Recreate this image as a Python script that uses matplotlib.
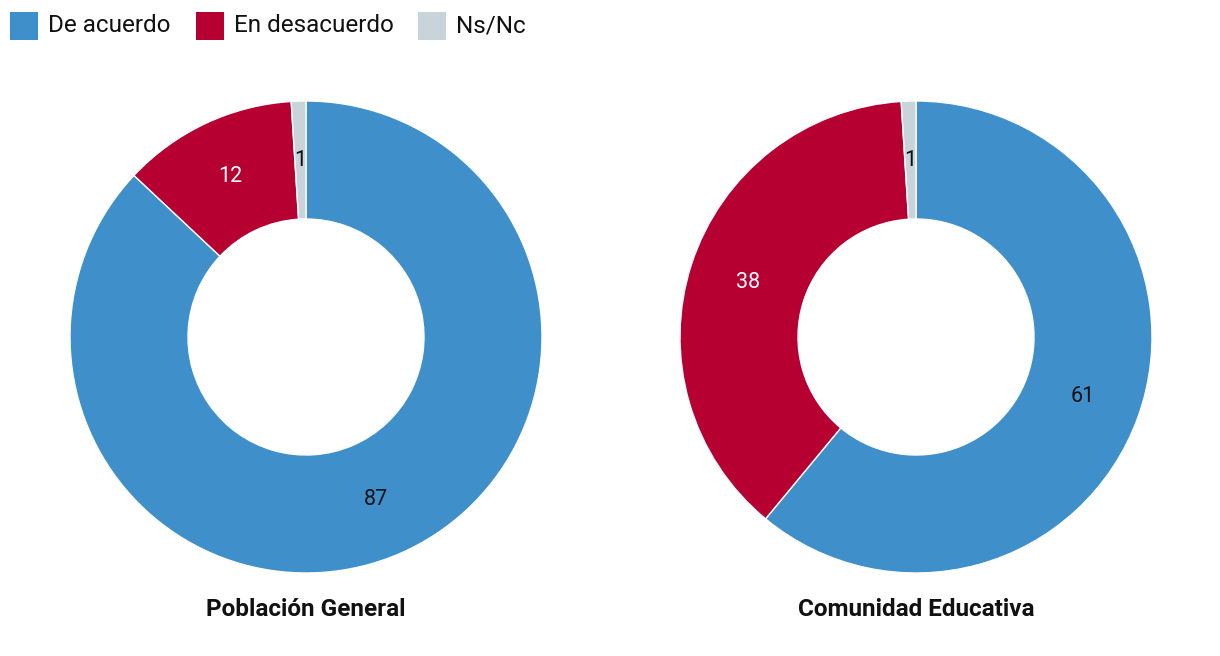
import matplotlib
matplotlib.use('Agg')
import matplotlib.pyplot as plt
from matplotlib.patches import Rectangle

plt.rcParams['font.family'] = ['Roboto', 'DejaVu Sans']

# data
categories = ['De acuerdo', 'En desacuerdo', 'Ns/Nc']
colors = ['#3f8fcb', '#b60032', '#c9d3da']
label_colors = ['#111111', 'white', '#111111']
groups = ['Población General', 'Comunidad Educativa']
values = {
    'Población General': [87, 12, 1],
    'Comunidad Educativa': [61, 38, 1],
}

W, H = 1220, 656
fig = plt.figure(figsize=(W / 100, H / 100), dpi=100)

# pixel centres of the two donuts
centres_x = [306, 916]
cy = 337
R = 236

for grp, cx in zip(groups, centres_x):
    ax = fig.add_axes([(cx - R) / W, (H - cy - R) / H, 2 * R / W, 2 * R / H])
    vals = values[grp]
    wedges, texts = ax.pie(vals, colors=colors, startangle=90, counterclock=False,
                           radius=1, labels=[str(v) for v in vals],
                           labeldistance=0.75,
                           wedgeprops=dict(width=0.5, edgecolor='white', linewidth=1))
    for t, c in zip(texts, label_colors):
        t.set_color(c)
        t.set_fontsize(15.5)
        t.set_ha('center')
        t.set_va('center')
    ax.set_xlim(-1, 1)
    ax.set_ylim(-1, 1)
    ax.set_aspect('equal')
    ax.axis('off')
    fig.text(cx / W, (H - 609) / H, grp, ha='center', va='center',
             fontsize=17.5, fontweight='bold', color='#111111')

# legend drawn by hand (pixel positions of the swatches)
swatch_x = [10, 196, 418]
sq = 28
for x, c, lab in zip(swatch_x, colors, categories):
    fig.patches.append(Rectangle((x / W, (H - 40) / H), sq / W, sq / H,
                                 transform=fig.transFigure, facecolor=c,
                                 edgecolor='none'))
    fig.text((x + sq + 10) / W, (H - 26) / H, lab, ha='left', va='center',
             fontsize=17.5, color='#111111')

fig.savefig('out.png', dpi=100)
